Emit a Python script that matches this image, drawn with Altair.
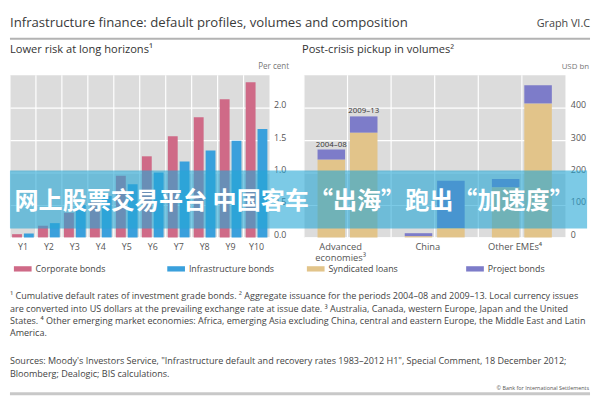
import altair as alt
import pandas as pd

# ---------------- data ----------------
horizons = ["Y1", "Y2", "Y3", "Y4", "Y5", "Y6", "Y7", "Y8", "Y9", "Y10"]
corporate = [0.05, 0.18, 0.38, 0.55, 0.95, 1.25, 1.56, 1.85, 2.13, 2.39]
infrastructure = [0.06, 0.22, 0.50, 0.64, 0.82, 1.00, 1.17, 1.34, 1.49, 1.67]
left_series = ["Corporate bonds", "Infrastructure bonds"]
left_ticks = [0, 0.5, 1.0, 1.5, 2.0]

regions = ["Advanced economies³", "China", "Other EMEs⁴"]
periods = ["2004–08", "2009–13"]
synd_2004_08 = [240, 4, 155]
proj_2004_08 = [31, 9, 25]
synd_2009_13 = [323, 29, 413]
proj_2009_13 = [50, 146, 56]
right_series = ["Syndicated loans", "Project bonds"]
right_ticks = [0, 100, 200, 300, 400]

title_text = "Infrastructure finance: default profiles, volumes and composition"
graph_id = "Graph VI.C"
left_title = "Lower risk at long horizons¹"
right_title = "Post-crisis pickup in volumes²"
banner_text = "网上股票交易平台 中国客车“出海”跑出“加速度”"
footnotes = [
    "¹ Cumulative default rates of investment grade bonds.   ² Aggregate issuance for the periods 2004–08 and 2009–13. Local currency issues",
    "are converted into US dollars at the prevailing exchange rate at issue date.   ³ Australia, Canada, western Europe, Japan and the United",
    "States.   ⁴ Other emerging market economies: Africa, emerging Asia excluding China, central and eastern Europe, the Middle East and Latin",
    "America.",
]
sources = [
    "Sources: Moody's Investors Service, \"Infrastructure default and recovery rates 1983–2012 H1\", Special Comment, 18 December 2012;",
    "Bloomberg; Dealogic; BIS calculations.",
]
copyright_text = "© Bank for International Settlements"

# ---------------- tables ----------------
left_df = pd.DataFrame({
    "horizon": horizons * 2,
    "series": [left_series[0]] * len(horizons) + [left_series[1]] * len(horizons),
    "value": corporate + infrastructure,
})
rows = []
for i, r in enumerate(regions):
    rows.append({"region": r, "period": periods[0], "type": right_series[0], "ord": 0, "value": synd_2004_08[i]})
    rows.append({"region": r, "period": periods[0], "type": right_series[1], "ord": 1, "value": proj_2004_08[i]})
    rows.append({"region": r, "period": periods[1], "type": right_series[0], "ord": 0, "value": synd_2009_13[i]})
    rows.append({"region": r, "period": periods[1], "type": right_series[1], "ord": 1, "value": proj_2009_13[i]})
right_df = pd.DataFrame(rows)
ann_df = pd.DataFrame({
    "region": [regions[0]] * 2,
    "period": periods,
    "total": [synd_2004_08[0] + proj_2004_08[0], synd_2009_13[0] + proj_2009_13[0]],
})

FONT = "Open Sans"
BG = "#dcdcdc"
WL, WR, H = 264, 266, 165
GAP = 35
TOP = 64  # header space above the plots (page px)

sym = "M-1,-0.3H1V0.3H-1Z"


def band():
    return alt.Scale(type="band", paddingInner=0, paddingOuter=0)


# ---------------- helpers for free text ----------------
def txt(s, x, y, size, align="left", color="#333", weight="normal", font=FONT):
    return alt.Chart(pd.DataFrame({"t": [s]})).mark_text(
        align=align, baseline="alphabetic", fontSize=size, font=font, color=color,
        fontWeight=weight).encode(x=alt.value(x), y=alt.value(y), text="t:N")


def hline(y, w, color="#b3b3b3", x2=590):
    return alt.Chart(pd.DataFrame({"t": [0]})).mark_rule(color=color, strokeWidth=w).encode(
        x=alt.value(0), x2=alt.value(x2), y=alt.value(y))


# ---------------- left panel ----------------
x_axis_left = alt.Axis(title=None, labelAngle=0, domain=False, ticks=False, grid=False,
                       labelPadding=5, labelFontSize=9, labelColor="#555", labelFont=FONT)
xL = alt.X("horizon:N", sort=horizons, scale=band(), axis=x_axis_left)
xL0 = alt.X("horizon:N", sort=horizons, scale=band(), axis=x_axis_left, bandPosition=0)

left_grid = alt.Chart(pd.DataFrame({"horizon": horizons})).mark_rule(
    color="white", strokeWidth=1.2).encode(x=xL0)

left_bars = alt.Chart(left_df).mark_bar().encode(
    x=xL,
    xOffset=alt.XOffset("series:N", sort=left_series,
                        scale=alt.Scale(type="band", paddingInner=0.167, paddingOuter=0.18)),
    y=alt.Y("value:Q", scale=alt.Scale(domain=[0, 2.5], nice=False),
            axis=alt.Axis(orient="right", values=left_ticks, format=".1f", title=None,
                          domain=False, ticks=False, gridColor="white", gridWidth=1.2,
                          labelFontSize=9, labelColor="#555", labelBaseline="alphabetic",
                          labelPadding=4, labelFont=FONT)),
    color=alt.Color("series:N", sort=left_series,
                    scale=alt.Scale(domain=left_series, range=["#cf6a87", "#3aa0dc"]),
                    legend=alt.Legend(title=None, orient="none", legendX=4, legendY=188,
                                      direction="horizontal", columns=2, symbolType=sym,
                                      symbolSize=324, symbolStrokeWidth=0, labelFontSize=9,
                                      labelColor="#444", labelFont=FONT, columnPadding=62,
                                      labelOffset=4)),
)

# header (y relative to plot top) and footer texts
text_layers = [
    hline(-TOP, 1, "white"),
    txt(title_text, 0, 14.5 - TOP, 13.4, color="#3a3a3a"),
    txt(graph_id, 590, 14.5 - TOP, 11, align="right", color="#444"),
    hline(27 - TOP, 2),
    txt(left_title, 0, 41 - TOP, 11.3, color="#333"),
    txt(right_title, WL + GAP - 2, 41 - TOP, 11.3, color="#333"),
    txt("Per cent", 284, 58 - TOP, 8.2, align="right", color="#777"),
    txt("USD bn", 589, 58 - TOP, 8, align="right", color="#777"),
]
FOOT0 = 229 - TOP
for i, line in enumerate(footnotes):
    text_layers.append(txt(line, 0, FOOT0 + 63 + i * 12.5, 9.2, color="#444"))
for i, line in enumerate(sources):
    text_layers.append(txt(line, 0, FOOT0 + 129 + i * 12.5, 9.2, color="#444"))
text_layers.append(txt(copyright_text, 589, FOOT0 + 155, 5.5, align="right", color="#555"))
text_layers.append(hline(FOOT0 + 159, 3, "#c8c8c8"))

left = alt.layer(left_grid, left_bars, *text_layers).properties(
    width=WL, height=H, view=alt.ViewBackground(fill=BG, strokeWidth=0))

# ---------------- right panel ----------------
x_axis_right = alt.Axis(title=None, labelAngle=0, domain=False, ticks=False, grid=False,
                        labelPadding=4, labelFontSize=9.5, labelColor="#555", labelFont=FONT,
                        labelOffset=-7, labelBaseline="top", labelLineHeight=11.5,
                        labelExpr="indexof(datum.label, 'economies') >= 0 ? split(datum.label, ' ') : datum.label")
xR = alt.X("region:N", sort=regions, scale=band(), axis=x_axis_right)
xR0 = alt.X("region:N", sort=regions, scale=band(), axis=x_axis_right, bandPosition=0)
xR5 = alt.X("region:N", sort=regions, scale=band(), axis=x_axis_right, bandPosition=0.5)
xoffR = alt.XOffset("period:N", sort=periods,
                    scale=alt.Scale(type="band", paddingInner=0.15, paddingOuter=0.42))

reg_df = pd.DataFrame({"region": regions})
right_grid0 = alt.Chart(reg_df).mark_rule(color="white", strokeWidth=1.2).encode(x=xR0)
right_grid5 = alt.Chart(reg_df).mark_rule(color="white", strokeWidth=1.2).encode(x=xR5)

right_bars = alt.Chart(right_df).mark_bar().encode(
    x=xR,
    xOffset=xoffR,
    y=alt.Y("sum(value):Q", stack="zero", scale=alt.Scale(domain=[0, 500], nice=False),
            axis=alt.Axis(orient="right", values=right_ticks, title=None, domain=False, ticks=False,
                          gridColor="white", gridWidth=1.2, labelFontSize=9, labelColor="#555",
                          labelBaseline="alphabetic", labelPadding=5, labelFont=FONT)),
    color=alt.Color("type:N", sort=right_series,
                    scale=alt.Scale(domain=right_series, range=["#e2c48a", "#7d7cc9"]),
                    legend=alt.Legend(title=None, orient="none", legendX=3, legendY=188,
                                      direction="horizontal", columns=2, symbolType=sym,
                                      symbolSize=324, symbolStrokeWidth=0, labelFontSize=9,
                                      labelColor="#444", labelFont=FONT, columnPadding=69,
                                      labelOffset=4)),
    order=alt.Order("ord:Q"),
)

right_ann = alt.Chart(ann_df).mark_text(fontSize=8, dy=-3, baseline="alphabetic",
                                        color="#333", font=FONT).encode(
    x=xR, xOffset=xoffR, y=alt.Y("total:Q"), text="period:N")

banner_rect = alt.Chart(pd.DataFrame({"t": [banner_text]})).mark_rect(
    color="#24a6d6", opacity=0.6).encode(
    x=alt.value(-(WL + GAP)), x2=alt.value(WR + 22), y=alt.value(97), y2=alt.value(156))
banner_txt = alt.Chart(pd.DataFrame({"t": [banner_text]})).mark_text(
    font="Noto Sans CJK SC", fontSize=24.5, fontWeight="bold", color="white",
    align="center", baseline="middle").encode(
    x=alt.value(-10), y=alt.value(129), text="t:N")

right = alt.layer(right_grid0, right_grid5, right_bars, right_ann, banner_rect, banner_txt).properties(
    width=WR, height=H, view=alt.ViewBackground(fill=BG, strokeWidth=0))

chart = alt.hconcat(left, right, spacing=GAP, bounds="flush").resolve_scale(
    color="independent", x="independent", y="independent", xOffset="independent"
).properties(padding=0).configure_view(strokeWidth=0).configure(font=FONT)

chart.save("out.html", embed_options={"renderer": "svg", "actions": False})
